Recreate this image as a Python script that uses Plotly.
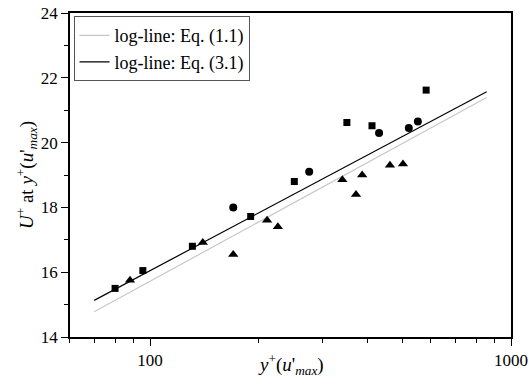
import plotly.graph_objects as go

# Data
sq_x = [80, 95.5, 131, 190, 251, 351, 412, 582]
sq_y = [15.5, 16.05, 16.8, 17.72, 18.8, 20.62, 20.52, 21.62]
ci_x = [170, 276, 431, 521, 552]
ci_y = [18.0, 19.1, 20.3, 20.45, 20.65]
tr_x = [88, 140, 170, 211, 226, 341, 372, 387, 462, 502]
tr_y = [15.75, 16.92, 16.55, 17.6, 17.4, 18.85, 18.4, 19.0, 19.3, 19.34]

line_x = [70, 856]
eq11_y = [14.78, 21.39]
eq31_y = [15.13, 21.57]

x_major = [100, 1000]
x_minor = [60, 70, 80, 90, 200, 300, 400, 500, 600, 700, 800, 900]
y_major = [14, 16, 18, 20, 22, 24]
y_minor = [15, 17, 19, 21, 23]

FONT = "Liberation Serif"

fig = go.Figure()
fig.add_trace(go.Scatter(x=line_x, y=eq11_y, mode="lines", name="log-line: Eq. (1.1)",
                         line=dict(color="#c8c8c8", width=1.2)))
fig.add_trace(go.Scatter(x=line_x, y=eq31_y, mode="lines", name="log-line: Eq. (3.1)",
                         line=dict(color="#000000", width=1.2)))
fig.add_trace(go.Scatter(x=sq_x, y=sq_y, mode="markers", showlegend=False,
                         marker=dict(symbol="square", size=7, color="black")))
fig.add_trace(go.Scatter(x=ci_x, y=ci_y, mode="markers", showlegend=False,
                         marker=dict(symbol="circle", size=8, color="black")))
fig.add_trace(go.Scatter(x=tr_x, y=tr_y, mode="markers", showlegend=False,
                         marker=dict(symbol="triangle-up", size=9, color="black")))

fig.add_annotation(
    text="<i>y</i><sup>+</sup>(<i>u</i>'<sub><i>max</i></sub>)",
    xref="paper", yref="paper", x=0.5, y=0, xanchor="center", yanchor="top",
    yshift=-12, showarrow=False, font=dict(family=FONT, size=19, color="black"))

fig.update_layout(
    width=529, height=386,
    margin=dict(l=70, r=18, t=13, b=49, autoexpand=False),
    paper_bgcolor="white", plot_bgcolor="white",
    font=dict(family=FONT, size=17, color="black"),
    showlegend=True,
    legend=dict(x=0.008, y=0.99, xanchor="left", yanchor="top",
                bgcolor="white", bordercolor="#555555", borderwidth=1,
                font=dict(family=FONT, size=18, color="black"), tracegroupgap=0,
                itemwidth=30),
    xaxis=dict(
        type="log", range=[1.7782, 3.0], automargin=False,
        tickmode="array", tickvals=x_major, ticktext=["100", "1000"],
        ticks="outside", ticklen=7, tickwidth=1, tickcolor="black",
        tickfont=dict(family=FONT, size=17, color="black"),
        showline=True, linecolor="black", linewidth=1.5, mirror=True,
        showgrid=False, zeroline=False,
        minor=dict(tickmode="array", tickvals=x_minor, ticks="outside",
                   ticklen=4, tickwidth=1, tickcolor="black", showgrid=False),
    ),
    yaxis=dict(
        range=[14, 24], automargin=False,
        tickmode="array", tickvals=y_major,
        ticks="outside", ticklen=7, tickwidth=1, tickcolor="black",
        tickfont=dict(family=FONT, size=17, color="black"),
        showline=True, linecolor="black", linewidth=1.5, mirror=True,
        showgrid=False, zeroline=False,
        minor=dict(tickmode="array", tickvals=y_minor, ticks="outside",
                   ticklen=4, tickwidth=1, tickcolor="black", showgrid=False),
        title=dict(text="<i>U</i><sup>+</sup> at <i>y</i><sup>+</sup>(<i>u</i>'<sub><i>max</i></sub>)",
                   font=dict(family=FONT, size=19, color="black"), standoff=2),
    ),
)

fig.write_html("out.html", config={"displayModeBar": False},
               post_script="document.body.style.margin='0px';document.body.style.overflow='hidden';")
